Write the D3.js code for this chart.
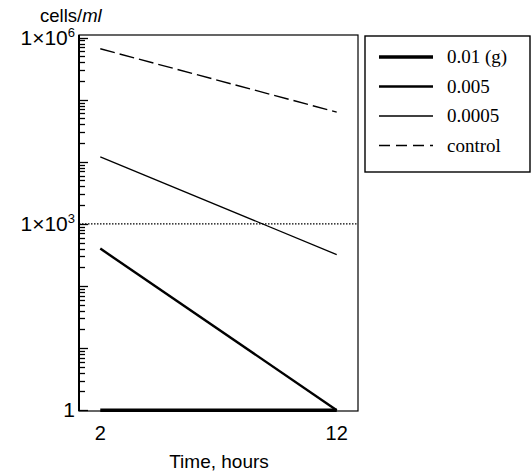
<!DOCTYPE html>
<html>
<head>
<meta charset="utf-8">
<script src="https://cdn.jsdelivr.net/npm/d3@7"></script>
<style>
  body { margin: 0; background: #fff; }
  svg text { fill: #000; }
</style>
</head>
<body>
<div id="chart"></div>
<script>
// hours
var times = [2, 12];
// cells/ml for each treatment
var seriesNames = ["0.01 (g)", "0.005", "0.0005", "control"];
var dose001 = [1, 1];
var dose0005 = [400, 1];
var dose00005 = [12000, 320];
var control = [660000, 63000];
var reference = 1000;
var yTickValues = [1, 1e3, 1e6];
var yTickExp = ["", "3", "6"];
var xTickValues = [2, 12];

var width = 531, height = 473;
var margin = { left: 79, right: 173, top: 35, bottom: 62 };
var w = width - margin.left - margin.right,
    h = height - margin.top - margin.bottom;

var svg = d3.select("#chart").append("svg")
  .attr("width", width)
  .attr("height", height);

var g = svg.append("g")
  .attr("transform", "translate(" + margin.left + "," + margin.top + ")");

var x = d3.scaleLinear().domain([1.1, 12.9]).range([0, w]);
var y = d3.scaleLog().domain([0.97, 1.1e6]).range([h, 0]);

// frame
g.append("rect")
  .attr("width", w).attr("height", h)
  .attr("fill", "none").attr("stroke", "#000").attr("stroke-width", 1.2);

// minor + major ticks on left axis, pointing inward
var minorTicks = [], majorTicks = [];
for (var e = 0; e <= 6; e++) {
  majorTicks.push(Math.pow(10, e));
  if (e < 6) for (var m = 2; m < 10; m++) minorTicks.push(m * Math.pow(10, e));
}
g.append("g").selectAll("line").data(minorTicks).enter().append("line")
  .attr("x1", 0).attr("x2", 6)
  .attr("y1", function(d) { return Math.round(y(d)) + 0.5; })
  .attr("y2", function(d) { return Math.round(y(d)) + 0.5; })
  .attr("stroke", "#000").attr("stroke-width", 1.3);
g.append("g").selectAll("line").data(majorTicks).enter().append("line")
  .attr("x1", 0).attr("x2", 9)
  .attr("y1", function(d) { return Math.round(y(d)) + 0.5; })
  .attr("y2", function(d) { return Math.round(y(d)) + 0.5; })
  .attr("stroke", "#000").attr("stroke-width", 1.3);

g.append("line")
  .attr("x1", 0).attr("x2", 0).attr("y1", 0).attr("y2", h)
  .attr("stroke", "#000").attr("stroke-width", 2);

// y tick labels
var yl = g.append("g").attr("font-family", "Liberation Sans, Arial, sans-serif")
  .attr("font-size", 21);
yTickValues.forEach(function(v, i) {
  var t = yl.append("text")
    .attr("x", -4).attr("y", y(v) + 7)
    .attr("text-anchor", "end");
  if (yTickExp[i] === "") {
    t.text("1");
  } else {
    t.append("tspan").text("1\u00d710");
    t.append("tspan").attr("font-size", 13).attr("dy", -8).text(yTickExp[i]);
  }
});

// x tick labels
g.append("g").selectAll("text").data(xTickValues).enter().append("text")
  .attr("x", function(d) { return x(d); })
  .attr("y", h + 29)
  .attr("text-anchor", "middle")
  .attr("font-family", "Liberation Sans, Arial, sans-serif")
  .attr("font-size", 20)
  .text(function(d) { return d; });

// axis titles
svg.append("text")
  .attr("x", 219).attr("y", 468)
  .attr("text-anchor", "middle")
  .attr("font-family", "Liberation Sans, Arial, sans-serif")
  .attr("font-size", 19)
  .text("Time, hours");

var yt = svg.append("text")
  .attr("x", 40).attr("y", 22)
  .attr("font-family", "Liberation Sans, Arial, sans-serif")
  .attr("font-size", 18.5);
yt.append("tspan").text("cells/");
yt.append("tspan").attr("font-style", "italic").text("ml");

// reference dotted line at 1e3
g.append("line")
  .attr("x1", 0).attr("x2", w)
  .attr("y1", y(reference)).attr("y2", y(reference))
  .attr("stroke", "#000").attr("stroke-width", 1.2)
  .attr("stroke-dasharray", "1.5,1.5");

var styles = [
  { data: dose001, width: 3.4, dash: null },
  { data: dose0005, width: 2.4, dash: null },
  { data: dose00005, width: 1.3, dash: null },
  { data: control, width: 1.4, dash: "15,5" }
];

var line = d3.line()
  .x(function(d) { return x(d.t); })
  .y(function(d) { return y(d.v); });

styles.forEach(function(s) {
  var pts = times.map(function(t, i) { return { t: t, v: s.data[i] }; });
  g.append("path")
    .attr("d", line(pts))
    .attr("fill", "none")
    .attr("stroke", "#000")
    .attr("stroke-width", s.width)
    .attr("stroke-dasharray", s.dash);
});

// legend
var legend = svg.append("g").attr("transform", "translate(365,36)");
legend.append("rect")
  .attr("width", 165).attr("height", 136)
  .attr("fill", "#fff").attr("stroke", "#000").attr("stroke-width", 1.4);
seriesNames.forEach(function(name, i) {
  var yy = 21 + i * 29.5;
  legend.append("line")
    .attr("x1", 14).attr("x2", 68)
    .attr("y1", yy).attr("y2", yy)
    .attr("stroke", "#000")
    .attr("stroke-width", styles[i].width)
    .attr("stroke-dasharray", styles[i].dash ? "11,6" : null);
  legend.append("text")
    .attr("x", 82).attr("y", yy + 6)
    .attr("font-family", "Liberation Serif, Times New Roman, serif")
    .attr("font-size", 19)
    .text(name);
});
</script>
</body>
</html>
